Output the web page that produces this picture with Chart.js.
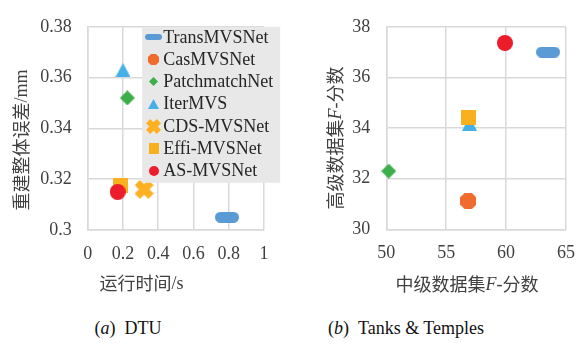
<!DOCTYPE html>
<html><head><meta charset="utf-8">
<script src="https://cdn.jsdelivr.net/npm/chart.js@4/dist/chart.umd.min.js"></script>
<style>
html,body{margin:0;padding:0;background:#fff;width:588px;height:344px;overflow:hidden;}
#w1{position:absolute;left:0;top:0;width:290px;height:300px;}
#w2{position:absolute;left:290px;top:0;width:298px;height:300px;}
.cap{position:absolute;top:317px;font-family:"Liberation Serif",serif;font-size:18px;line-height:22px;color:#111;white-space:nowrap;transform:translateX(-50%);}
</style></head><body>
<div id="w1"><canvas id="c1" width="290" height="300"></canvas></div>
<div id="w2"><canvas id="c2" width="298" height="300"></canvas></div>
<div class="cap" style="left:128px">(<i>a</i>)&ensp;DTU</div>
<div class="cap" style="left:406px">(<i>b</i>)&ensp;Tanks &amp; Temples</div>
<script>
// ---- data ----
const methods = ['TransMVSNet','CasMVSNet','PatchmatchNet','IterMVS','CDS-MVSNet','Effi-MVSNet','AS-MVSNet'];
const dtuRuntime = [0.79, 0.49, 0.225, 0.2, 0.32, 0.185, 0.17];
const dtuOverall = [0.305, 0.355, 0.352, 0.363, 0.316, 0.3175, 0.315];
const ttIntermediate = [63.5, 56.84, 50.2, 56.94, null, 56.82, 59.9];
const ttAdvanced = [37.0, 31.12, 32.3, 34.17, null, 34.4, 37.36];
const dtuXTicks = [0, 0.2, 0.4, 0.6, 0.8, 1];
const dtuYTicks = [0.3, 0.32, 0.34, 0.36, 0.38];
const ttXTicks = [50, 55, 60, 65];
const ttYTicks = [30, 32, 34, 36, 38];

// ---- styles ----
const colors = ['#5b9bd5','#ef6b2e','#3cae4a','#45b0e6','#fdb021','#f8b01f','#ec1c2a'];
const shapes = ['bar','octagon','diamond','triangle','cross','square','circle'];
const plotDims = {bar:[24,11],octagon:[16,16],diamond:[15,15],triangle:[15,14],cross:[19,19],square:[15,15],circle:[16,16]};
const legendDims = {bar:[17,6],octagon:[11,11],diamond:[9,9],triangle:[11,10],cross:[15,15],square:[10,11],circle:[10,10]};

function marker(shape, color, dims){
  const [w,h] = dims[shape];
  const c = document.createElement('canvas');
  c.width = w; c.height = h;
  const g = c.getContext('2d');
  g.fillStyle = color; g.strokeStyle = color;
  g.beginPath();
  if (shape === 'bar') { g.roundRect(0,0,w,h,h/2); g.fill(); }
  else if (shape === 'octagon') {
    const k = w*0.27;
    g.moveTo(k,0); g.lineTo(w-k,0); g.lineTo(w,k); g.lineTo(w,h-k); g.lineTo(w-k,h); g.lineTo(k,h); g.lineTo(0,h-k); g.lineTo(0,k); g.closePath(); g.fill();
  }
  else if (shape === 'diamond') { g.moveTo(w/2,0); g.lineTo(w,h/2); g.lineTo(w/2,h); g.lineTo(0,h/2); g.closePath(); g.fill(); }
  else if (shape === 'triangle') { g.moveTo(w/2,0); g.lineTo(w,h); g.lineTo(0,h); g.closePath(); g.fill(); }
  else if (shape === 'square') { g.fillRect(0,0,w,h); }
  else if (shape === 'circle') { g.arc(w/2,h/2,w/2,0,Math.PI*2); g.fill(); }
  else if (shape === 'cross') {
    const lw = w*0.4, a = w/2 - lw/(2*Math.SQRT2);
    g.lineWidth = lw; g.lineCap = 'butt';
    g.moveTo(w/2-a,h/2-a); g.lineTo(w/2+a,h/2+a);
    g.moveTo(w/2-a,h/2+a); g.lineTo(w/2+a,h/2-a); g.stroke();
  }
  return c;
}
const plotMarkers = shapes.map((s,i)=>marker(s,colors[i],plotDims));
const legendMarkers = shapes.map((s,i)=>marker(s,colors[i],legendDims));

const SERIF = '"Liberation Serif", serif';
const CJK = '"Noto Sans CJK SC", sans-serif';
const TXT = '#404040';
const GRID = '#d9d9d9';

const boxLegend = {
  id:'boxLegend',
  afterDatasetsDraw(chart, args, o){
    if (!o || !o.show) return;
    const ctx = chart.ctx, a = chart.chartArea;
    const x0 = a.left + o.dx, y0 = a.top + o.dy;
    ctx.save();
    ctx.fillStyle = '#e8e8e8';
    ctx.fillRect(x0, y0, o.w, o.h);
    ctx.font = '18px ' + SERIF;
    ctx.textBaseline = 'middle';
    ctx.textAlign = 'left';
    ctx.fillStyle = '#262626';
    chart.data.datasets.forEach((ds,i)=>{
      const cy = y0 + o.first + o.step*i;
      const m = legendMarkers[i];
      ctx.drawImage(m, Math.round(x0 + o.mx - m.width/2), Math.round(cy - m.height/2));
      ctx.fillText(ds.label, x0 + o.tx, cy + 1);
    });
    ctx.restore();
  }
};

// axis titles: segments, CJK ones in the CJK font, Latin ones in serif (optionally italic)
const axisTitles = {
  id:'axisTitles',
  afterDraw(chart, args, o){
    const ctx = chart.ctx;
    const draw = (segs, cx, cy, rot)=>{
      ctx.save();
      ctx.translate(cx, cy); ctx.rotate(rot);
      ctx.textBaseline = 'middle'; ctx.textAlign = 'left'; ctx.fillStyle = TXT;
      const fonts = segs.map(s => (s.i ? 'italic ' : '') + '18px ' + (s.c ? CJK : SERIF));
      let total = 0;
      const ws = segs.map((s,k)=>{ ctx.font = fonts[k]; const w = ctx.measureText(s.t).width; total += w; return w; });
      let x = -total/2;
      segs.forEach((s,k)=>{ ctx.font = fonts[k]; ctx.fillText(s.t, x, s.c ? 0 : 1); x += ws[k]; });
      ctx.restore();
    };
    draw(o.x.segs, o.x.cx, o.x.cy, 0);
    draw(o.y.segs, o.y.cx, o.y.cy, -Math.PI/2);
  }
};

function scaleOpts(ticksArr, min, max, axis, size){
  return {
    type:'linear', min, max,
    afterBuildTicks: s => { s.ticks = ticksArr.map(v => ({value:v})); },
    afterFit: s => { if (axis === 'x') s.height = size; else s.width = size; },
    ticks:{ font:{family:SERIF, size:18}, color:TXT, padding: axis === 'x' ? 13 : 16, callback: v => String(v), autoSkip:false, maxRotation:0 },
    grid:{ color:GRID, lineWidth:1.5, drawTicks:false },
    border:{ display:true, color:GRID, width:1.5 },
    title:{ display:false }
  };
}

function makeDatasets(xs, ys){
  return methods.map((m,i)=>({
    label:m,
    data: (xs[i] === null || ys[i] === null) ? [] : [{x:xs[i], y:ys[i]}],
    pointStyle: plotMarkers[i],
    pointRadius: 8,
    backgroundColor: colors[i], borderColor: colors[i],
    order: -i,
    clip: false
  }));
}

function build(){
  Chart.defaults.animation = false;
  Chart.defaults.font.family = SERIF;

  new Chart(document.getElementById('c1'), {
    type:'scatter',
    data:{ datasets: makeDatasets(dtuRuntime, dtuOverall) },
    options:{
      responsive:false, devicePixelRatio:1, animation:false,
      layout:{ padding:{ left:0, top:16, right:26, bottom:0 } },
      scales:{
        x: scaleOpts(dtuXTicks, 0, 1, 'x', 70),
        y: scaleOpts(dtuYTicks, 0.3, 0.38, 'y', 87.7)
      },
      plugins:{
        legend:{ display:false }, tooltip:{ enabled:false },
        boxLegend:{ show:true, dx:54.5, dy:0, w:138, h:156, first:10, step:22.3, mx:11.5, tx:21 },
        axisTitles:{
          x:{ segs:[{t:'运行时间',c:true},{t:'/s'}], cx:141.5, cy:283 },
          y:{ segs:[{t:'重建整体误差',c:true},{t:'/mm'}], cx:21, cy:140 }
        }
      }
    },
    plugins:[boxLegend, axisTitles]
  });

  new Chart(document.getElementById('c2'), {
    type:'scatter',
    data:{ datasets: makeDatasets(ttIntermediate, ttAdvanced) },
    options:{
      responsive:false, devicePixelRatio:1, animation:false,
      layout:{ padding:{ left:0, top:15.7, right:15.3, bottom:0 } },
      scales:{
        x: scaleOpts(ttXTicks, 50, 65, 'x', 70.7),
        y: scaleOpts(ttYTicks, 30, 38, 'y', 96.3)
      },
      plugins:{
        legend:{ display:false }, tooltip:{ enabled:false },
        boxLegend:{ show:false },
        axisTitles:{
          x:{ segs:[{t:'中级数据集',c:true},{t:'F',i:true},{t:'-'},{t:'分数',c:true}], cx:177, cy:284 },
          y:{ segs:[{t:'高级数据集',c:true},{t:'F',i:true},{t:'-'},{t:'分数',c:true}], cx:45, cy:138 }
        }
      }
    },
    plugins:[boxLegend, axisTitles]
  });
}

const loads = ['18px "Liberation Serif"','italic 18px "Liberation Serif"','18px "Noto Sans CJK SC"']
  .map(f => document.fonts.load(f, '0.3中F').catch(()=>null));
Promise.all(loads).then(build, build);
</script>
</body></html>
